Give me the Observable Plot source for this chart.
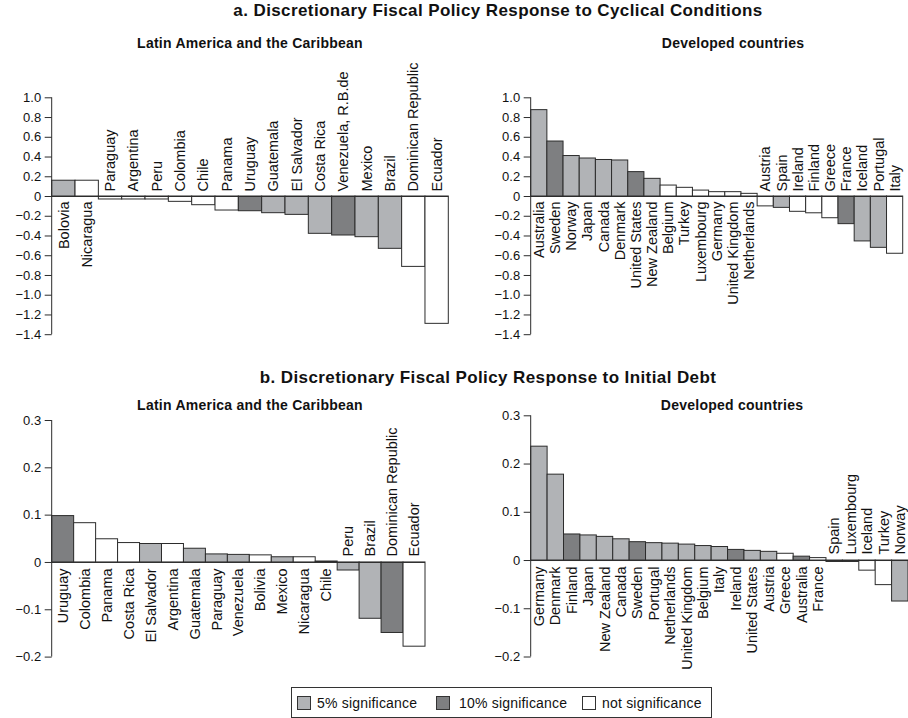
<!DOCTYPE html>
<html>
<head>
<meta charset="utf-8">
<script src="https://cdn.jsdelivr.net/npm/d3@7"></script>
<script src="https://cdn.jsdelivr.net/npm/@observablehq/plot@0.6"></script>
<style>
  html, body { margin: 0; padding: 0; background: #fff; overflow: hidden; }
  #wrap { position: relative; width: 908px; height: 718px; overflow: hidden;
          font-family: "Liberation Sans", Arial, Helvetica, sans-serif; color: #111; }
  .ttl { position: absolute; white-space: nowrap; line-height: 1; font-weight: bold; transform: translateX(-50%); }
  .panel { position: absolute; }
  .panel svg { overflow: visible; background: none; max-width: none !important; display: block; }
  #legend { position: absolute; left: 291px; top: 687px; width: 421px; height: 31px;
            border: 1px solid #333; box-sizing: border-box; }
  .sw { position: absolute; top: 8px; width: 14px; height: 14px; border: 1px solid #333; box-sizing: border-box; }
  .lt { position: absolute; top: 8px; font-size: 14px; line-height: 1; letter-spacing: 0.2px; white-space: nowrap; }
</style>
</head>
<body>
<div id="wrap">
  <div class="ttl" style="left:498px; top:1.5px; font-size:17px; letter-spacing:0.4px;">a. Discretionary Fiscal Policy Response to Cyclical Conditions</div>
  <div class="ttl" style="left:250px; top:36px; font-size:14px; letter-spacing:0.25px;">Latin America and the Caribbean</div>
  <div class="ttl" style="left:733px; top:36px; font-size:14px; letter-spacing:0.25px;">Developed countries</div>
  <div class="ttl" style="left:488px; top:368.5px; font-size:17px; letter-spacing:0.4px;">b. Discretionary Fiscal Policy Response to Initial Debt</div>
  <div class="ttl" style="left:250px; top:398px; font-size:14px; letter-spacing:0.25px;">Latin America and the Caribbean</div>
  <div class="ttl" style="left:732px; top:398px; font-size:14px; letter-spacing:0.25px;">Developed countries</div>
  <div id="p1" class="panel" style="left:0px; top:55px; width:455px;"></div>
  <div id="p2" class="panel" style="left:460px; top:55px; width:448px;"></div>
  <div id="p3" class="panel" style="left:0px; top:410px; width:430px;"></div>
  <div id="p4" class="panel" style="left:460px; top:410px; width:455px;"></div>
  <div id="legend"></div>
</div>
<script>
// ---------- Data ----------
// a. Response to cyclical conditions — Latin America and the Caribbean
const laCycCountries = ["Bolovia","Nicaragua","Paraguay","Argentina","Peru","Colombia","Chile","Panama","Uruguay","Guatemala","El Salvador","Costa Rica","Venezuela, R.B.de","Mexico","Brazil","Dominican Republic","Ecuador"];
const laCycValues = [0.16, 0.16, -0.03, -0.03, -0.03, -0.054, -0.088, -0.142, -0.149, -0.169, -0.186, -0.378, -0.395, -0.412, -0.53, -0.713, -1.29];
const laCycSig = ["5%","none","none","none","none","none","none","none","10%","5%","5%","5%","10%","5%","5%","none","none"];

// a. Response to cyclical conditions — Developed countries
const devCycCountries = ["Australia","Sweden","Norway","Japan","Canada","Denmark","United States","New Zealand","Belgium","Turkey","Luxembourg","Germany","United Kingdom","Netherlands","Austria","Spain","Ireland","Finland","Greece","France","Iceland","Portugal","Italy"];
const devCycValues = [0.875, 0.557, 0.41, 0.385, 0.37, 0.365, 0.247, 0.179, 0.111, 0.088, 0.06, 0.044, 0.044, 0.027, -0.1, -0.115, -0.155, -0.17, -0.22, -0.28, -0.455, -0.52, -0.58];
const devCycSig = ["5%","10%","5%","5%","5%","5%","10%","5%","none","none","none","none","none","none","none","5%","none","none","none","10%","5%","5%","none"];

// b. Response to initial debt — Latin America and the Caribbean
const laDebtCountries = ["Uruguay","Colombia","Panama","Costa Rica","El Salvador","Argentina","Guatemala","Paraguay","Venezuela","Bolivia","Mexico","Nicaragua","Chile","Peru","Brazil","Dominican Republic","Ecuador"];
const laDebtValues = [0.098, 0.083, 0.049, 0.041, 0.039, 0.039, 0.029, 0.017, 0.016, 0.015, 0.011, 0.011, 0.002, -0.017, -0.119, -0.149, -0.178];
const laDebtSig = ["10%","none","none","none","5%","none","5%","5%","5%","none","5%","none","none","5%","5%","10%","none"];

// b. Response to initial debt — Developed countries
const devDebtCountries = ["Germany","Denmark","Finland","Japan","New Zealand","Canada","Sweden","Portugal","Netherlands","United Kingdom","Belgium","Italy","Ireland","United States","Austria","Greece","Australia","France","Spain","Luxembourg","Iceland","Turkey","Norway"];
const devDebtValues = [0.236, 0.178, 0.054, 0.052, 0.049, 0.044, 0.038, 0.036, 0.035, 0.033, 0.030, 0.028, 0.022, 0.020, 0.018, 0.014, 0.008, 0.005, -0.003, -0.003, -0.021, -0.051, -0.085];
const devDebtSig = ["5%","5%","10%","5%","5%","5%","10%","5%","5%","5%","5%","5%","10%","5%","5%","none","10%","none","5%","5%","none","none","5%"];

// Axis ticks
const cycTicks = [1.0, 0.8, 0.6, 0.4, 0.2, 0, -0.2, -0.4, -0.6, -0.8, -1.0, -1.2, -1.4];
const debtTicks = [0.3, 0.2, 0.1, 0, -0.1, -0.2];

// Legend
const legendKeys = ["5%", "10%", "none"];
const legendLabels = ["5% significance", "10% significance", "not significance"];
const sigColors = {"5%": "#b1b3b6", "10%": "#7e7f81", "none": "#ffffff"};

// ---------- Drawing ----------
const INK = "#2c2c2c";
const fmt = v => v === 0 ? "0" : (v < 0 ? "\u2212" : "") + Math.abs(v).toFixed(1);

function axisLine(index, scales, values, dims) {
  return d3.create("svg:line")
    .attr("x1", dims.marginLeft).attr("x2", dims.marginLeft)
    .attr("y1", dims.marginTop).attr("y2", dims.height - dims.marginBottom)
    .attr("stroke", INK).attr("stroke-width", 1)
    .node();
}

function panel(el, countries, values, sig, cfg) {
  const data = countries.map((c, i) => ({country: c, value: values[i], color: sigColors[sig[i]]}));
  const pos = data.filter(d => d.value >= 0);
  const neg = data.filter(d => d.value < 0);
  const chart = Plot.plot({
    width: cfg.width, height: cfg.height,
    marginLeft: cfg.ml, marginRight: cfg.mr, marginTop: cfg.mt, marginBottom: cfg.mb,
    style: {fontFamily: '"Liberation Sans", Arial, Helvetica, sans-serif', fontSize: "13px", background: "none", overflow: "visible", maxWidth: "none", color: "#111"},
    x: {domain: countries, padding: 0, round: false, axis: null},
    y: {domain: cfg.domain, axis: null},
    color: {type: "identity"},
    marks: [
      Plot.barY(data, {x: "country", y: "value", fill: "color", stroke: INK, strokeWidth: 1}),
      Plot.ruleY([0], {stroke: INK, strokeWidth: 1}),
      Plot.axisY({ticks: cfg.ticks, tickFormat: fmt, tickSize: 7, tickPadding: 4, label: null, stroke: INK, fontSize: 13}),
      axisLine,
      Plot.text(pos, {x: "country", y: 0, text: "country", rotate: -90, textAnchor: "end", dy: cfg.gap, fontSize: 14.5, fill: "#111"}),
      Plot.text(neg, {x: "country", y: 0, text: "country", rotate: -90, textAnchor: "start", dy: -cfg.gap, fontSize: 14.5, fill: "#111"})
    ]
  });
  chart.setAttribute("width", cfg.width);
  chart.style.width = cfg.width + "px";
  document.getElementById(el).appendChild(chart);
}

// Top row: 1.0 -> y 97.3, -1.4 -> y 334.2 (page), svg top 55
panel("p1", laCycCountries, laCycValues, laCycSig,
  {width: 455, height: 290, ml: 51.7, mr: 6.7, mt: 42.3, mb: 10.8, domain: [-1.4, 1.0], ticks: cycTicks, gap: 5});
panel("p2", devCycCountries, devCycValues, devCycSig,
  {width: 448, height: 290, ml: 70.7, mr: 5.3, mt: 42.3, mb: 10.8, domain: [-1.4, 1.0], ticks: cycTicks, gap: 5});
// Bottom row, svg top 410
panel("p3", laDebtCountries, laDebtValues, laDebtSig,
  {width: 430, height: 260, ml: 51.7, mr: 5, mt: 10, mb: 13.4, domain: [-0.2, 0.3], ticks: debtTicks, gap: 6});
panel("p4", devDebtCountries, devDebtValues, devDebtSig,
  {width: 455, height: 260, ml: 70.7, mr: 7, mt: 5.3, mb: 13.5, domain: [-0.2, 0.3], ticks: debtTicks, gap: 6});

// Legend
const legendSwatchX = [5, 144, 290];
const legendTextX = [25, 167, 310];
const lg = document.getElementById("legend");
legendKeys.forEach((k, i) => {
  const sw = document.createElement("div");
  sw.className = "sw";
  sw.style.left = legendSwatchX[i] + "px";
  sw.style.background = sigColors[k];
  lg.appendChild(sw);
  const t = document.createElement("div");
  t.className = "lt";
  t.style.left = legendTextX[i] + "px";
  t.textContent = legendLabels[i];
  lg.appendChild(t);
});
</script>
</body>
</html>
